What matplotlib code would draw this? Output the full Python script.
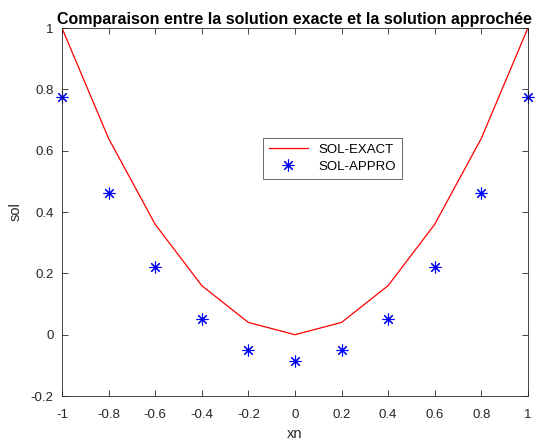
import matplotlib
matplotlib.use('Agg')
import matplotlib.pyplot as plt

plt.rcParams['font.family'] = ['Liberation Sans', 'DejaVu Sans']

# data
xn = [-1.0, -0.8, -0.6, -0.4, -0.2, 0.0, 0.2, 0.4, 0.6, 0.8, 1.0]
sol_exact = [1.0, 0.64, 0.36, 0.16, 0.04, 0.0, 0.04, 0.16, 0.36, 0.64, 1.0]
sol_appro = [0.775, 0.462, 0.222, 0.05, -0.05, -0.087, -0.05, 0.05, 0.222, 0.462, 0.775]

fig = plt.figure(figsize=(5.38, 4.42), dpi=100)
ax = fig.add_axes([0.1152, 0.104, 0.866, 0.8326])

ax.plot(xn, sol_exact, color='#ff0000', lw=0.9, label='SOL-EXACT')
# MATLAB-like '*' marker (8-armed asterisk), not clipped at the axes edge
ax.plot(xn, sol_appro, ls='none', marker=(8, 2, 0), color='#0000ff', ms=8.5,
        markeredgewidth=0.8, clip_on=False, label='SOL-APPRO')

ax.set_xlim(-1, 1)
ax.set_ylim(-0.2, 1)
ax.set_xticks([-1, -0.8, -0.6, -0.4, -0.2, 0, 0.2, 0.4, 0.6, 0.8, 1])
ax.set_xticklabels(['-1', '-0.8', '-0.6', '-0.4', '-0.2', '0', '0.2', '0.4', '0.6', '0.8', '1'])
ax.set_yticks([-0.2, 0, 0.2, 0.4, 0.6, 0.8, 1])
ax.set_yticklabels(['-0.2', '0', '0.2', '0.4', '0.6', '0.8', '1'])
ax.tick_params(direction='in', top=True, right=True, length=4, width=0.6,
               labelsize=9.5, colors='#262626')
ax.tick_params(axis='x', pad=9)
ax.tick_params(axis='y', pad=6)
for s in ax.spines.values():
    s.set_linewidth(0.6)
    s.set_color('#262626')

ax.set_xlabel('xn', fontsize=10.5, color='#262626', labelpad=5)
ax.set_ylabel('sol', fontsize=10.5, color='#262626', labelpad=6)
ax.set_title('Comparaison entre la solution exacte et la solution approchée',
             fontsize=11.5, fontweight='bold', pad=3)

leg = ax.legend(loc='upper left', bbox_to_anchor=(0.418, 0.72), fontsize=9.5,
                frameon=True, fancybox=False, edgecolor='#262626',
                handlelength=2.9, borderpad=0.45, labelspacing=0.35)
leg.get_frame().set_linewidth(0.6)

fig.savefig('out.png', dpi=100, facecolor='white')
